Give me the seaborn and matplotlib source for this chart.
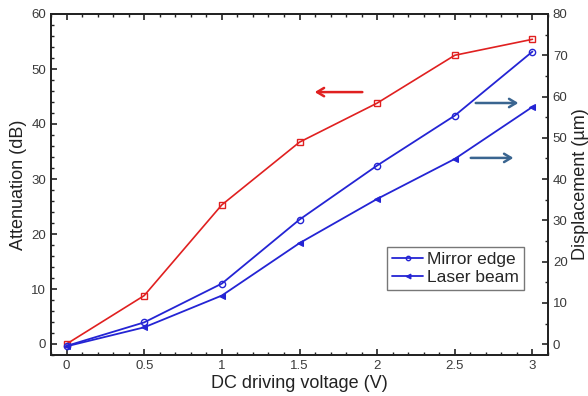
import matplotlib
matplotlib.use("Agg")
import matplotlib.pyplot as plt
from matplotlib.ticker import MultipleLocator
import seaborn as sns
import pandas as pd

voltage = [0, 0.5, 1, 1.5, 2, 2.5, 3]
attenuation_db = [0.0, 8.8, 25.3, 36.7, 43.8, 52.5, 55.4]
mirror_edge_um = [-0.4, 5.3, 14.7, 30.2, 43.3, 55.4, 70.9]
laser_beam_um = [-0.5, 4.1, 11.8, 24.5, 35.2, 44.9, 57.5]

sns.set_style("ticks")
plt.rcParams['font.family'] = ['Liberation Sans', 'DejaVu Sans']
plt.rcParams['xtick.direction'] = 'in'
plt.rcParams['ytick.direction'] = 'in'

fig = plt.figure(figsize=(5.88, 3.96), dpi=100)
ax = fig.add_axes([51/588, 1-355/396, 497/588, 341/396])
ax2 = ax.twinx()

df = pd.DataFrame({"V": voltage, "att": attenuation_db,
                   "mirror": mirror_edge_um, "laser": laser_beam_um})

red = "#e02020"
blue = "#2424d4"
sns.lineplot(data=df, x="V", y="att", ax=ax, color=red, lw=1.2,
             marker="s", markersize=4.5, markerfacecolor="none",
             markeredgecolor=red, markeredgewidth=1.0)
sns.lineplot(data=df, x="V", y="mirror", ax=ax2, color=blue, lw=1.3,
             marker="o", markersize=4.5, markerfacecolor="none",
             markeredgecolor=blue, markeredgewidth=1.0, label="Mirror edge")
sns.lineplot(data=df, x="V", y="laser", ax=ax2, color=blue, lw=1.3,
             marker="<", markersize=5, markerfacecolor=blue,
             markeredgecolor=blue, label="Laser beam")

ax.set_xlim(-0.1, 3.1)
ax.set_ylim(-2, 60)
ax2.set_ylim(-2.6, 80)

ax.xaxis.set_major_locator(MultipleLocator(0.5))
ax.xaxis.set_minor_locator(MultipleLocator(0.1))
ax.yaxis.set_major_locator(MultipleLocator(10))
ax.yaxis.set_minor_locator(MultipleLocator(2))
ax2.yaxis.set_major_locator(MultipleLocator(10))
ax2.yaxis.set_minor_locator(MultipleLocator(5))

ax.set_xticks([0, 0.5, 1, 1.5, 2, 2.5, 3])
ax.set_xticklabels(["0", "0.5", "1", "1.5", "2", "2.5", "3"])

ax.tick_params(which="both", top=True, right=False, direction="in", colors="#222222",
               labelcolor="#3a3a3a", labelsize=9.5)
ax.tick_params(which="major", length=4, width=1.2)
ax.tick_params(which="minor", length=2.5, width=1)
ax2.tick_params(which="both", right=True, direction="in", colors="#222222",
                labelcolor="#3a3a3a", labelsize=9.5)
ax2.tick_params(which="major", length=4, width=1.2)
ax2.tick_params(which="minor", length=2.5, width=1)

for a in (ax, ax2):
    for s in a.spines.values():
        s.set_linewidth(1.3)
        s.set_color("#222222")

ax.set_xlabel("DC driving voltage (V)", fontsize=13, color="#222222", labelpad=2)
ax.set_ylabel("Attenuation (dB)", fontsize=13, color="#222222", labelpad=3)
ax2.set_ylabel("Displacement (\u00b5m)", fontsize=13, color="#222222", labelpad=3)

leg = ax2.legend(loc="upper left", bbox_to_anchor=(387/588, 1-247/396),
                 bbox_transform=fig.transFigure, fontsize=12.5, frameon=True,
                 fancybox=False, handlelength=1.8, handletextpad=0.2,
                 borderpad=0.3, labelspacing=0.15, borderaxespad=0,
                 markerscale=0.7)
leg.get_frame().set_edgecolor("#555555")
leg.get_frame().set_linewidth(1.0)

arrow_blue = "#3a6590"
ax.annotate("", xy=(0.525, 0.771), xytext=(0.632, 0.771), xycoords="axes fraction",
            arrowprops=dict(arrowstyle="->,head_length=0.5,head_width=0.3", color=red, lw=1.8))
ax.annotate("", xy=(0.946, 0.739), xytext=(0.849, 0.739), xycoords="axes fraction",
            arrowprops=dict(arrowstyle="->,head_length=0.5,head_width=0.3", color=arrow_blue, lw=1.8))
ax.annotate("", xy=(0.936, 0.578), xytext=(0.839, 0.578), xycoords="axes fraction",
            arrowprops=dict(arrowstyle="->,head_length=0.5,head_width=0.3", color=arrow_blue, lw=1.8))

fig.savefig("out.png", dpi=100)
